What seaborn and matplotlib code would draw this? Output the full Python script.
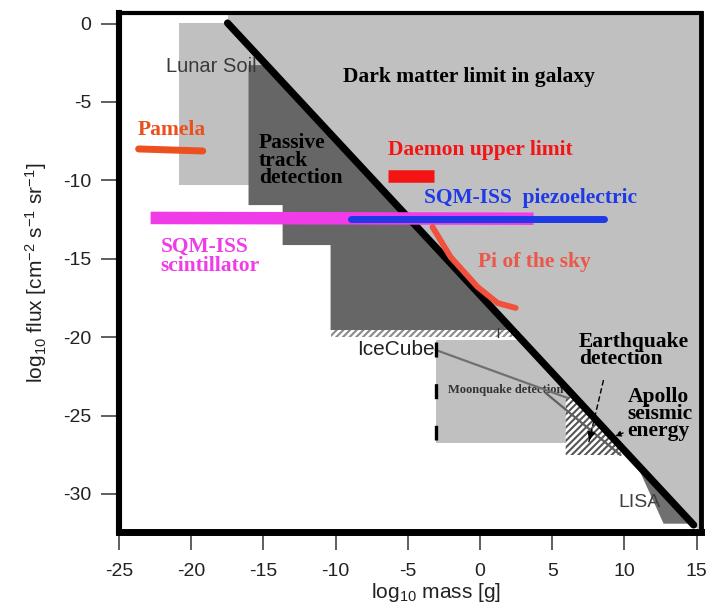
import matplotlib
matplotlib.use("Agg")
import matplotlib.pyplot as plt
from matplotlib.patches import Polygon
import seaborn as sns

# ---------------- data ----------------
x_ticks = [-25, -20, -15, -10, -5, 0, 5, 10, 15]
y_ticks = [-30, -25, -20, -15, -10, -5, 0]
x_lim = [-25.0, 15.3]
y_lim = [-32.43, 0.67]
x_label = r"log$_{10}$ mass [g]"
y_label = r"log$_{10}$ flux [cm$^{-2}$ s$^{-1}$ sr$^{-1}$]"

# dark matter limit line (black diagonal)
dm_x = [-17.48, 14.79]
dm_y = [0.03, -31.98]
# region above the dark-matter line
dm_region_x = [-17.48, -17.48, 15.6, 15.6, 15.41]
dm_region_y = [0.03, 0.9, 0.9, -32.6, -32.6]

# lunar soil
lunar_x = [-20.87, -16.03, -16.03, -20.87]
lunar_y = [0.03, 0.03, -10.3, -10.3]
lunar_gap_x = [-16.03, -14.5, -14.5, -16.03]
lunar_gap_y = [0.03, 0.03, -2.65, -2.65]

# passive track detection (dark staircase)
passive_x = [-16.03, -14.78, 2.26, -10.35, -10.35, -13.67, -13.67, -16.03]
passive_y = [-2.65, -2.65, -19.55, -19.55, -14.13, -14.13, -11.58, -11.58]

# IceCube hatched band
icecube_x = [-10.35, 2.3, 2.3, -10.35]
icecube_y = [-19.55, -19.55, -20.0, -20.0]
icecube_tick_x = [1.22, 1.22]
icecube_tick_y = [-19.4, -20.0]

# moonquake detection region
moon_x = [-3.07, 10.0, 10.0, -3.07]
moon_y = [-20.18, -20.18, -26.75, -26.75]
moon_dash_x = [-3.07, -3.07]
moon_dash_y = [-20.3, -26.56]
moon_line1_x = [-3.07, 6.07]
moon_line1_y = [-20.82, -23.88]
moon_line2_x = [4.54, 9.73]
moon_line2_y = [-23.56, -27.52]

# apollo seismic hatched region
apollo_x = [5.93, 6.6, 9.73, 9.73, 5.93]
apollo_y = [-23.82, -23.82, -26.95, -27.52, -27.52]

# LISA
lisa_x = [11.12, 11.45, 14.7, 12.71]
lisa_y = [-28.67, -28.67, -31.9, -31.9]

# experiments
pamela_x = [-23.64, -19.2]
pamela_y = [-8.0, -8.13]
daemon_x = [-6.34, -3.21]
daemon_y = [-9.73, -9.73]
sqm_scint_x = [-22.81, 3.71]
sqm_scint_y = [-12.4, -12.45]
sqm_piezo_x = [-8.96, 8.56]
sqm_piezo_y = [-12.47, -12.47]
pi_sky_x = [-3.29, -2.04, -0.17, 1.22, 2.47]
pi_sky_y = [-12.98, -14.89, -16.8, -17.83, -18.14]

# arrows
eq_arrow_x = [8.55, 7.52]
eq_arrow_y = [-22.74, -26.75]
apollo_arrow_x = [10.08, 9.18]
apollo_arrow_y = [-26.05, -26.37]

# ---------------- style ----------------
sns.set_theme(style="white")
plt.rcParams["font.family"] = ["Liberation Sans", "DejaVu Sans"]
plt.rcParams["mathtext.default"] = "regular"
plt.rcParams["hatch.linewidth"] = 1.5

SERIF = ["Liberation Serif", "DejaVu Serif"]
SANS = ["Liberation Sans", "DejaVu Sans"]
LIGHT = "#c0c0c0"
DARK = "#666666"

fig = plt.figure(figsize=(7.07, 6.08), dpi=100)
ax = fig.add_axes([0.1683, 0.125, 0.8232, 0.8536])
ax.set_facecolor("white")

def poly(xs, ys, **kw):
    p = Polygon(list(zip(xs, ys)), closed=True, **kw)
    ax.add_patch(p)
    return p

poly(dm_region_x, dm_region_y, facecolor=LIGHT, edgecolor="none", zorder=1)
poly(lunar_x, lunar_y, facecolor=LIGHT, edgecolor="none", zorder=1)
poly(lunar_gap_x, lunar_gap_y, facecolor=LIGHT, edgecolor="none", zorder=1)
poly(moon_x, moon_y, facecolor=LIGHT, edgecolor="none", zorder=1)
poly(passive_x, passive_y, facecolor=DARK, edgecolor="none", zorder=2)
poly(lisa_x, lisa_y, facecolor="#707070", edgecolor="none", zorder=2)

# text under hatch
ax.text(-2.24, -23.37, "Moonquake detection", family=SERIF, fontweight="bold",
        fontsize=9, color="#333333", ha="left", va="center", zorder=2.5)

poly(icecube_x, icecube_y, facecolor="white", edgecolor="#8a8a8a", linewidth=0,
     hatch="/////", zorder=3)
poly(apollo_x, apollo_y, facecolor="white", edgecolor="#555555", linewidth=0,
     hatch="/////", zorder=3)

# thin grey/black helper lines
sns.lineplot(x=moon_line1_x, y=moon_line1_y, ax=ax, color="#707070", linewidth=1.6,
             estimator=None, sort=False, zorder=3.5)
sns.lineplot(x=moon_line2_x, y=moon_line2_y, ax=ax, color="#606060", linewidth=1.6,
             estimator=None, sort=False, zorder=3.5)
sns.lineplot(x=moon_dash_x, y=moon_dash_y, ax=ax, color="black", linewidth=2.4,
             dashes=(4.5, 8), estimator=None, sort=False, zorder=3.5)
sns.lineplot(x=icecube_tick_x, y=icecube_tick_y, ax=ax, color="#333333", linewidth=1,
             estimator=None, sort=False, zorder=3.5)

# dark-matter limit line
sns.lineplot(x=dm_x, y=dm_y, ax=ax, color="black", linewidth=5.2,
             estimator=None, sort=False, zorder=4, solid_capstyle="round")

# experiment marks
sns.lineplot(x=sqm_scint_x, y=sqm_scint_y, ax=ax, color="#f03ce8", linewidth=9,
             estimator=None, sort=False, zorder=5, solid_capstyle="butt")
sns.lineplot(x=sqm_piezo_x, y=sqm_piezo_y, ax=ax, color="#1e3ae6", linewidth=5,
             estimator=None, sort=False, zorder=5.5, solid_capstyle="round")
sns.lineplot(x=pamela_x, y=pamela_y, ax=ax, color="#eb501e", linewidth=5,
             estimator=None, sort=False, zorder=5, solid_capstyle="round")
sns.lineplot(x=daemon_x, y=daemon_y, ax=ax, color="#f51414", linewidth=9,
             estimator=None, sort=False, zorder=5, solid_capstyle="butt")
sns.lineplot(x=pi_sky_x, y=pi_sky_y, ax=ax, color="#f0503c", linewidth=4.2,
             estimator=None, sort=False, zorder=5, solid_capstyle="round")

# arrows
sns.lineplot(x=eq_arrow_x, y=eq_arrow_y, ax=ax, color="black", linewidth=1,
             dashes=(4, 2), estimator=None, sort=False, zorder=6)
ax.annotate("", xy=(eq_arrow_x[1], eq_arrow_y[1]),
            xytext=(eq_arrow_x[1] + 0.12, eq_arrow_y[1] + 0.45),
            arrowprops=dict(arrowstyle="-|>", color="black", lw=1, mutation_scale=12),
            zorder=6)
ax.annotate("", xy=(apollo_arrow_x[1], apollo_arrow_y[1]),
            xytext=(apollo_arrow_x[0], apollo_arrow_y[0]),
            arrowprops=dict(arrowstyle="-|>", color="black", lw=1, mutation_scale=8,
                            linestyle="--"),
            zorder=6)

# ---------------- labels ----------------
def blabel(x, y, s, color="black", size=15.5, ls=1.0):
    ax.text(x, y, s, family=SERIF, fontweight="bold", fontsize=size, color=color,
            ha="left", va="center", zorder=7, linespacing=ls)

blabel(-9.52, -3.41, "Dark matter limit in galaxy")
blabel(-23.7, -6.79, "Pamela", color="#eb501e")
blabel(-15.33, -8.75, "Passive\ntrack\ndetection", ls=0.82)
blabel(-6.34, -8.07, "Daemon upper limit", color="#f51414")
blabel(-3.91, -11.13, "SQM-ISS  piezoelectric", color="#1e3ae6")
blabel(-22.12, -14.86, "SQM-ISS\nscintillator", color="#f03ce8", ls=0.92)
blabel(-0.17, -15.21, "Pi of the sky", color="#ec5848")
blabel(6.83, -20.85, "Earthquake\ndetection", ls=0.82)
blabel(10.22, -24.9, "Apollo\nseismic\nenergy", ls=0.82)

ax.text(-21.77, -2.77, "Lunar Soil", family=SANS, fontsize=14.5, color="#3a3a3a",
        ha="left", va="center", zorder=7)
ax.text(-8.48, -20.76, "IceCube", family=SANS, fontsize=15, color="#222222",
        ha="left", va="center", zorder=7)
ax.text(9.6, -30.52, "LISA", family=SANS, fontsize=14, color="#404040",
        ha="left", va="center", zorder=7)

# ---------------- axes ----------------
ax.set_xlim(x_lim)
ax.set_ylim(y_lim)
ax.set_xticks(x_ticks)
ax.set_yticks(y_ticks)
ax.set_xticklabels([str(v) for v in x_ticks])
ax.set_yticklabels([str(v) for v in y_ticks])
ax.tick_params(axis="both", direction="out", length=13, width=1.1, color="#333333",
               labelsize=14, labelcolor="#222222")
ax.tick_params(axis="x", pad=9)
ax.tick_params(axis="y", pad=7)
ax.tick_params(bottom=True, left=True, top=False, right=False)

ax.set_xlabel(x_label, fontsize=15, color="#222222")
ax.set_ylabel(y_label, fontsize=15, color="#222222")
ax.xaxis.set_label_coords(0.545, -0.095)
ax.yaxis.set_label_coords(-0.12, 0.5)

for side, lw in [("left", 4.4), ("bottom", 5.0), ("top", 3.0), ("right", 3.5)]:
    ax.spines[side].set_visible(True)
    ax.spines[side].set_color("black")
    ax.spines[side].set_linewidth(lw)
    ax.spines[side].set_zorder(10)

ax.grid(False)
fig.savefig("out.png", dpi=100)
